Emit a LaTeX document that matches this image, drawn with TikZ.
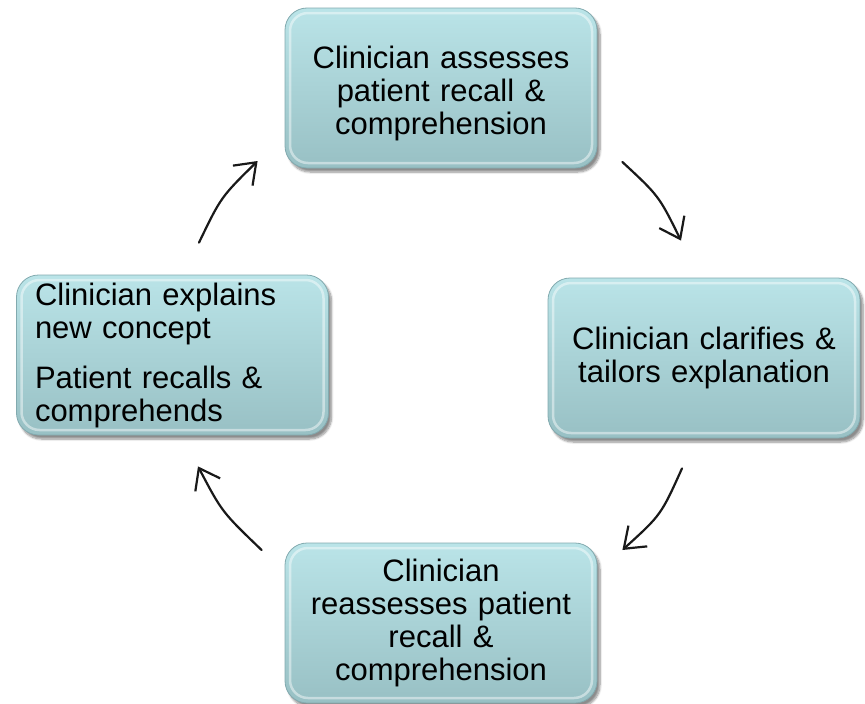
\documentclass[tikz,border=0pt]{standalone}
\usepackage{fontspec}
\setmainfont{Liberation Sans}
\usetikzlibrary{arrows.meta,shadows.blur,calc}
\definecolor{boxtop}{RGB}{186,228,232}
\definecolor{boxbot}{RGB}{152,192,196}
\definecolor{boxedge}{RGB}{130,170,175}
\begin{document}
\begin{tikzpicture}[x=1pt,y=-1pt,
  stepbox/.style={rounded corners=22pt, minimum width=312pt, minimum height=160pt,
    inner sep=0pt, top color=boxtop, bottom color=boxbot, draw=boxedge, line width=0.8pt,
    blur shadow={shadow xshift=3pt, shadow yshift=-4pt, shadow blur steps=8, shadow opacity=45},
    path picture={\draw[white,opacity=0.45,line width=2.5pt,rounded corners=18pt]
      ([shift={(5pt,5pt)}]path picture bounding box.south west) rectangle
      ([shift={(-5pt,-5pt)}]path picture bounding box.north east);},
    font=\fontsize{31}{33}\selectfont, text width=300pt, align=center},
  cyc/.style={line width=2.2pt, line cap=round, black!90,
    -{Straight Barb[length=19pt,width=28pt]}}]
\useasboundingbox (0,0) rectangle (865,704);

\node[stepbox] (b1) at (441,88) {\rule{0pt}{33pt}Clinician assesses\\patient recall \&\\comprehension};
\node[stepbox] (b2) at (704,358) {Clinician clarifies \&\\tailors explanation};
\node[stepbox] (b3) at (441,623) {Clinician\\reassesses patient\\recall \&\\comprehension};
\node[stepbox, align=left, text width=275pt] (b4) at (172.5,355)
  {Clinician explains\\new concept\\[17pt]Patient recalls \&\\comprehends};

\coordinate (a1s) at ($(b4.north)+(26.5,-32)$);
\coordinate (a1e) at ($(b1.west)+(-27,73)$);
\coordinate (a2s) at ($(b1.east)+(25,74)$);
\coordinate (a2e) at ($(b2.north)+(-23,-37)$);
\coordinate (a3s) at ($(b2.south)+(-22,30)$);
\coordinate (a3e) at ($(b3.east)+(25,-73)$);
\coordinate (a4s) at ($(b3.west)+(-23,-73)$);
\coordinate (a4e) at ($(b4.south)+(25.5,31)$);

\draw[cyc] (a1s) .. controls (221,197) .. (a1e);
\draw[cyc] (a2s) .. controls (659,196) .. (a2e);
\draw[cyc] (a3s) .. controls (661,515) .. (a3e);
\draw[cyc] (a4s) .. controls (222,512) .. (a4e);
\end{tikzpicture}
\end{document}
